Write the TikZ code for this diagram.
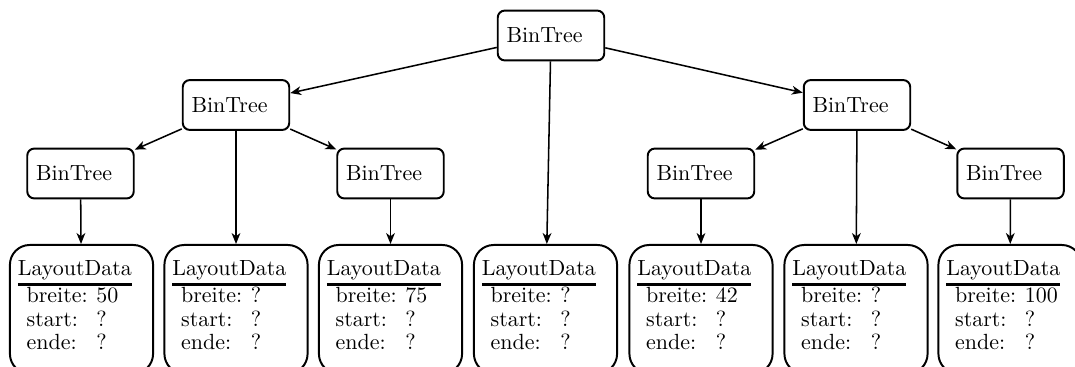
\documentclass[tikz,border=0pt]{standalone}
\usetikzlibrary{arrows.meta}
\renewcommand{\arraystretch}{0.9}
\newcommand{\layoutdata}[1]{{%
\begin{tabular}[t]{@{\hspace{4pt}}l@{\hspace{4pt}}l@{}}
\multicolumn{2}{@{}l@{}}{LayoutData}\\
\noalign{\hrule height 1.3pt}
breite: & #1\\
start: & ?\\
ende: & ?
\end{tabular}}}
\tikzset{
  bintree/.style={draw, line width=0.9pt, rounded corners=3.2pt, minimum height=22.7pt,
    text width=40.5pt, inner xsep=4pt, align=left},
  layout/.style={draw, line width=0.9pt, rounded corners=9pt, anchor=north, text width=58pt,
    inner xsep=3.6pt, inner ysep=6.5pt, text depth=38pt, align=left},
  edge/.style={-{Stealth[length=5pt,width=4pt,inset=1.5pt]}, line width=0.7pt}
}
\begin{document}
\begin{tikzpicture}[x=0.016cm, y=-0.016cm]
\useasboundingbox (0,0) rectangle (1075,367);
\clip (0,0) rectangle (1075,367);

\node[bintree] (root) at (551,35.5) {BinTree};
\node[bintree] (a) at (236,105) {BinTree};
\node[bintree] (b) at (857,105) {BinTree};
%upper levels

\node[bintree] (aa) at (80.5,173.5) {BinTree};
\node[bintree] (ab) at (390.5,173.5) {BinTree};
\node[bintree] (ba) at (701,173.5) {BinTree};
\node[bintree] (bb) at (1010.5,173.5) {BinTree};
%lower level

\node[layout] (d1) at (81.5,244) {\layoutdata{50}};
\node[layout] (d2) at (236,244) {\layoutdata{?}};
\node[layout] (d3) at (390.5,244) {\layoutdata{75}};
\node[layout] (d4) at (545.5,244) {\layoutdata{?}};
\node[layout] (d5) at (701,244) {\layoutdata{42}};
\node[layout] (d6) at (856,244) {\layoutdata{?}};
\node[layout] (d7) at (1010,244) {\layoutdata{100}};
%layout data

\draw[edge] (root) -- (a);
\draw[edge] (root) -- (b);
\draw[edge] (root) -- (d4);
\draw[edge] (a) -- (aa);
\draw[edge] (a) -- (ab);
\draw[edge] (a) -- (d2);
\draw[edge] (b) -- (ba);
\draw[edge] (b) -- (bb);
\draw[edge] (b) -- (d6);
\draw[edge] (aa) -- (d1);
\draw[edge] (ab) -- (d3);
\draw[edge] (ba) -- (d5);
\draw[edge] (bb) -- (d7);
\end{tikzpicture}
\end{document}
